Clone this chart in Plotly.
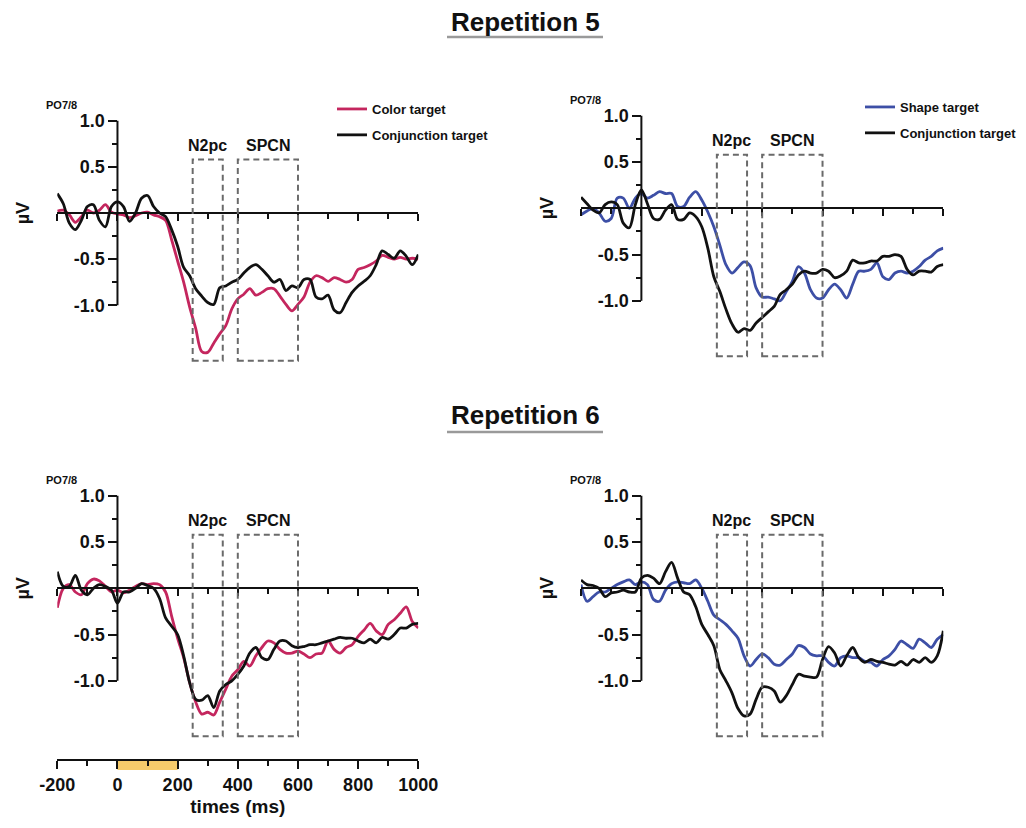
import plotly.graph_objects as go

W, H = 1026, 828
FONT = "Liberation Sans, Arial, sans-serif"

# ---------------- data ----------------
TIME = list(range(-200, 1001, 20))

R5_COLOR = [0.02, 0.03, -0.02, -0.10, -0.04, 0.03, 0.00, 0.03, 0.09, 0.01,
            -0.01, -0.02, -0.05, -0.03, 0.00, 0.01, -0.02, -0.04, -0.08, -0.29,
            -0.52, -0.75, -1.02, -1.25, -1.50, -1.51, -1.41, -1.31, -1.22, -1.04,
            -0.93, -0.88, -0.82, -0.89, -0.86, -0.82, -0.82, -0.90, -0.99, -1.06,
            -0.99, -0.91, -0.75, -0.68, -0.70, -0.74, -0.70, -0.72, -0.75, -0.72,
            -0.61, -0.59, -0.56, -0.52, -0.46, -0.48, -0.50, -0.48, -0.50, -0.49,
            -0.50]
R5_CONJ_C = [0.21, 0.10, -0.11, -0.18, -0.08, 0.07, 0.09, -0.08, -0.15, 0.07,
             0.12, 0.07, -0.09, 0.00, 0.16, 0.19, 0.07, 0.00, -0.04, -0.18,
             -0.36, -0.59, -0.68, -0.82, -0.90, -0.97, -0.99, -0.81, -0.79, -0.75,
             -0.72, -0.65, -0.59, -0.56, -0.61, -0.68, -0.75, -0.72, -0.84, -0.79,
             -0.81, -0.72, -0.72, -0.91, -0.93, -0.89, -1.05, -1.08, -0.97, -0.86,
             -0.79, -0.74, -0.68, -0.56, -0.41, -0.45, -0.49, -0.41, -0.47, -0.56,
             -0.45]
R5_SHAPE = [-0.07, -0.03, 0.00, -0.05, -0.14, -0.11, 0.11, 0.11, 0.00, 0.11,
            0.16, 0.11, 0.14, 0.18, 0.16, 0.16, 0.02, 0.02, 0.12, 0.18,
            0.09, -0.04, -0.20, -0.40, -0.61, -0.70, -0.64, -0.58, -0.62, -0.86,
            -0.96, -0.96, -0.98, -1.00, -0.90, -0.79, -0.63, -0.70, -0.88, -0.97,
            -0.97, -0.88, -0.82, -0.88, -0.97, -0.82, -0.68, -0.68, -0.66, -0.59,
            -0.74, -0.77, -0.70, -0.68, -0.70, -0.68, -0.63, -0.56, -0.52, -0.46,
            -0.43]
R5_CONJ_S = [0.12, 0.05, -0.02, -0.05, 0.04, 0.07, 0.04, -0.16, -0.21, 0.04,
             0.20, 0.05, -0.11, -0.12, -0.02, 0.04, -0.12, -0.12, -0.05, -0.09,
             -0.20, -0.43, -0.74, -0.90, -1.09, -1.25, -1.34, -1.30, -1.32, -1.24,
             -1.18, -1.12, -1.06, -0.93, -0.88, -0.82, -0.72, -0.68, -0.70, -0.70,
             -0.66, -0.68, -0.75, -0.73, -0.68, -0.56, -0.59, -0.59, -0.57, -0.57,
             -0.52, -0.52, -0.50, -0.52, -0.66, -0.72, -0.68, -0.68, -0.69, -0.63,
             -0.61]
R6_COLOR = [-0.21, 0.00, 0.04, -0.04, -0.07, 0.05, 0.10, 0.08, 0.02, -0.04,
            -0.02, -0.05, -0.02, 0.02, 0.05, 0.04, 0.05, 0.04, -0.04, -0.30,
            -0.54, -0.75, -1.02, -1.23, -1.36, -1.34, -1.37, -1.23, -1.09, -0.95,
            -0.88, -0.79, -0.84, -0.73, -0.64, -0.57, -0.59, -0.66, -0.70, -0.70,
            -0.68, -0.71, -0.75, -0.71, -0.70, -0.57, -0.66, -0.70, -0.64, -0.61,
            -0.52, -0.45, -0.38, -0.46, -0.50, -0.39, -0.34, -0.27, -0.20, -0.36,
            -0.43]
R6_CONJ_C = [0.18, 0.02, 0.02, 0.14, -0.02, -0.07, 0.00, 0.04, 0.02, -0.02,
             -0.16, -0.04, -0.04, 0.00, 0.05, 0.03, 0.00, -0.11, -0.32, -0.41,
             -0.50, -0.73, -1.02, -1.20, -1.21, -1.16, -1.29, -1.11, -1.04, -1.00,
             -0.93, -0.84, -0.70, -0.64, -0.75, -0.77, -0.66, -0.57, -0.57, -0.62,
             -0.64, -0.63, -0.61, -0.61, -0.59, -0.57, -0.55, -0.53, -0.54, -0.54,
             -0.57, -0.59, -0.55, -0.59, -0.53, -0.55, -0.50, -0.43, -0.43, -0.39,
             -0.38]
R6_SHAPE = [0.04, -0.14, -0.09, -0.04, -0.04, 0.00, 0.04, 0.07, 0.09, 0.04,
            0.07, 0.04, -0.12, -0.14, -0.02, 0.05, 0.07, 0.06, 0.05, 0.09,
            0.00, -0.14, -0.29, -0.34, -0.39, -0.46, -0.54, -0.73, -0.84, -0.77,
            -0.71, -0.75, -0.82, -0.83, -0.77, -0.71, -0.62, -0.64, -0.71, -0.73,
            -0.73, -0.80, -0.84, -0.75, -0.73, -0.75, -0.75, -0.79, -0.80, -0.84,
            -0.77, -0.73, -0.66, -0.57, -0.61, -0.65, -0.55, -0.59, -0.64, -0.55,
            -0.50]
R6_CONJ_S = [0.09, 0.04, 0.03, 0.00, -0.09, -0.05, -0.04, -0.02, -0.04, -0.04,
             0.11, 0.14, 0.11, 0.05, 0.18, 0.28, 0.11, -0.04, -0.07, -0.20,
             -0.39, -0.50, -0.62, -0.88, -1.00, -1.13, -1.30, -1.38, -1.36, -1.20,
             -1.07, -1.07, -1.11, -1.23, -1.16, -1.04, -0.93, -0.95, -0.96, -0.96,
             -0.77, -0.63, -0.70, -0.84, -0.73, -0.64, -0.75, -0.80, -0.77, -0.79,
             -0.80, -0.82, -0.83, -0.79, -0.83, -0.77, -0.80, -0.75, -0.80, -0.73,
             -0.46]

N2PC_WIN = [250, 350]
SPCN_WIN = [400, 600]
STIM_WIN = [0, 200]
BOX_Y = [-1.60, 0.58]
WIN_LABEL_Y = 0.73

XRANGE = [-200, 1000]
XTICKS = [-200, 0, 200, 400, 600, 800, 1000]
XTICK_TEXT = ["-200", "0", "200", "400", "600", "800", "1000"]
YTICKS = [-1.0, -0.5, 0.5, 1.0]
YTICK_TEXT = ["-1.0", "-0.5", "0.5", "1.0"]
YMINOR = [-0.75, -0.25, 0.25, 0.75]

PINK = "#C4265E"
BLUE = "#3D4FA6"
BLACK = "#111111"
BOXGRAY = "#6a6a6a"
STIMCOLOR = "#F6CB6B"

# panel series: (name, values, color)
PANEL_SERIES = [
    [("Color target", R5_COLOR, PINK), ("Conjunction target", R5_CONJ_C, BLACK)],
    [("Shape target", R5_SHAPE, BLUE), ("Conjunction target", R5_CONJ_S, BLACK)],
    [("Color target", R6_COLOR, PINK), ("Conjunction target", R6_CONJ_C, BLACK)],
    [("Shape target", R6_SHAPE, BLUE), ("Conjunction target", R6_CONJ_S, BLACK)],
]
PANEL_LEGEND = ["legend", "legend2", None, None]

# ---------------- layout geometry (pixels) ----------------
PANELS = [
    dict(x0=57.3, x1=418.3, top=110, bottom=372, zero=213.0, scale=92.3),
    dict(x0=581.0, x1=943.3, top=105, bottom=368, zero=208.3, scale=92.5),
    dict(x0=57.3, x1=418.3, top=485, bottom=752, zero=588.3, scale=92.5),
    dict(x0=581.0, x1=943.3, top=485, bottom=752, zero=588.3, scale=92.5),
]

def pxx(p):
    return p / W

def pxy(p):
    return 1 - p / H

fig = go.Figure()
layout = dict(
    template="none",
    width=W, height=H, autosize=False,
    margin=dict(l=0, r=0, t=0, b=0, autoexpand=False),
    paper_bgcolor="white", plot_bgcolor="rgba(0,0,0,0)",
    font=dict(family=FONT, color=BLACK),
    showlegend=True,
)
shapes = []
annotations = []

bold = dict(family=FONT, color=BLACK, weight="bold")

for i, (pan, series) in enumerate(zip(PANELS, PANEL_SERIES), start=1):
    xa = "x" if i == 1 else f"x{i}"
    ya = "y" if i == 1 else f"y{i}"
    xkey = "xaxis" if i == 1 else f"xaxis{i}"
    ykey = "yaxis" if i == 1 else f"yaxis{i}"
    zero_x_px = pan["x0"] + (0 - XRANGE[0]) / (XRANGE[1] - XRANGE[0]) * (pan["x1"] - pan["x0"])
    layout[xkey] = dict(
        domain=[pxx(pan["x0"]), pxx(pan["x1"])], range=XRANGE,
        anchor="free", position=pxy(pan["zero"]), automargin=False,
        showline=True, linecolor=BLACK, linewidth=2,
        ticks="outside", tickvals=XTICKS, ticklen=7, tickwidth=2, tickcolor=BLACK,
        showticklabels=False, showgrid=False, zeroline=False,
        minor=dict(ticks="outside", dtick=100, tick0=-200, ticklen=5, tickwidth=2,
                   tickcolor=BLACK, showgrid=False),
        fixedrange=True,
    )
    layout[ykey] = dict(
        domain=[pxy(pan["bottom"]), pxy(pan["top"])],
        range=[(pan["zero"] - pan["bottom"]) / pan["scale"], (pan["zero"] - pan["top"]) / pan["scale"]],
        anchor="free", position=pxx(zero_x_px), automargin=False,
        showline=False,
        ticks="outside", tickvals=YTICKS, ticktext=YTICK_TEXT, ticklen=9, tickwidth=2,
        tickcolor=BLACK, tickfont=dict(bold, size=18),
        minor=dict(ticks="outside", tickvals=YMINOR, ticklen=5, tickwidth=2,
                   tickcolor=BLACK, showgrid=False),
        showgrid=False, zeroline=False, fixedrange=True,
    )
    # y axis line from lowest to highest tick at time 0
    shapes.append(dict(type="line", xref=xa, yref=ya, x0=0, x1=0,
                       y0=min(YTICKS), y1=max(YTICKS),
                       line=dict(color=BLACK, width=2), layer="above"))
    # component windows
    for win in (N2PC_WIN, SPCN_WIN):
        shapes.append(dict(type="rect", xref=xa, yref=ya, x0=win[0], x1=win[1],
                           y0=BOX_Y[0], y1=BOX_Y[1],
                           line=dict(color=BOXGRAY, width=2, dash="6px,4px"),
                           fillcolor="rgba(0,0,0,0)", layer="above"))
    for lab, win in (("N2pc", N2PC_WIN), ("SPCN", SPCN_WIN)):
        annotations.append(dict(text=lab, xref=xa, yref=ya, x=sum(win) / 2, y=WIN_LABEL_Y,
                                showarrow=False, font=dict(bold, size=16),
                                xanchor="center", yanchor="middle"))
    # PO7/8 and µV labels
    annotations.append(dict(text="PO7/8", xref="paper", yref="paper",
                            x=pxx(pan["x0"] + 4), y=pxy(pan["top"] - 5),
                            showarrow=False, font=dict(bold, size=11),
                            xanchor="center", yanchor="middle"))
    annotations.append(dict(text="µV", xref="paper", yref="paper",
                            x=pxx(pan["x0"] - 34), y=pxy(pan["zero"]),
                            showarrow=False, textangle=-90, font=dict(bold, size=18),
                            xanchor="center", yanchor="middle"))
    # traces
    leg = PANEL_LEGEND[i - 1]
    for k, (name, vals, col) in enumerate(series):
        tr = dict(x=TIME, y=vals, name=name, mode="lines", xaxis=xa, yaxis=ya,
                  line=dict(color=col, width=2.8, shape="spline", smoothing=0.9),
                  hoverinfo="skip")
        if leg:
            tr.update(legend=leg, legendgroup=f"{leg}_{k}", showlegend=True)
        else:
            tr.update(showlegend=False)
        fig.add_trace(go.Scatter(**tr))

# bottom time axis with stimulus bar (below panel 3)
p3 = PANELS[2]
layout["xaxis5"] = dict(
    domain=[pxx(p3["x0"]), pxx(p3["x1"])], range=XRANGE,
    anchor="free", position=pxy(760), automargin=False,
    showline=True, linecolor=BLACK, linewidth=2,
    ticks="outside", tickvals=XTICKS, ticktext=XTICK_TEXT, ticklen=8, tickwidth=2,
    tickcolor=BLACK, tickfont=dict(bold, size=18),
    minor=dict(ticks="outside", dtick=100, tick0=-200, ticklen=5, tickwidth=2,
               tickcolor=BLACK, showgrid=False),
    title=dict(text="times (ms)", font=dict(bold, size=19), standoff=5),
    showgrid=False, zeroline=False, fixedrange=True,
)
layout["yaxis5"] = dict(domain=[pxy(770), pxy(760)], range=[0, 1], visible=False,
                        anchor="x5", fixedrange=True, automargin=False)
fig.add_trace(go.Scatter(
    x=[STIM_WIN[0], STIM_WIN[1], STIM_WIN[1], STIM_WIN[0], STIM_WIN[0]],
    y=[0, 0, 1, 1, 0], xaxis="x5", yaxis="y5", mode="lines", fill="toself",
    fillcolor=STIMCOLOR, line=dict(width=0, color=STIMCOLOR), showlegend=False,
    hoverinfo="skip"))

# legends
legend_common = dict(xanchor="left", yanchor="top", bgcolor="rgba(0,0,0,0)",
                     font=dict(bold, size=13), tracegroupgap=6, traceorder="grouped",
                     itemwidth=30, borderwidth=0)
layout["legend"] = dict(legend_common, x=pxx(332), y=pxy(94))
layout["legend2"] = dict(legend_common, x=pxx(860), y=pxy(92))

# titles
for txt, ty, uy in (("Repetition 5", 22, 37), ("Repetition 6", 415, 432)):
    annotations.append(dict(text=txt, xref="paper", yref="paper", x=pxx(525), y=pxy(ty),
                            showarrow=False, font=dict(bold, size=26),
                            xanchor="center", yanchor="middle"))
    shapes.append(dict(type="line", xref="paper", yref="paper", x0=pxx(447), x1=pxx(603),
                       y0=pxy(uy), y1=pxy(uy), line=dict(color="#9a9a9a", width=2.5)))

layout["shapes"] = shapes
layout["annotations"] = annotations
fig.update_layout(**layout)

fig.write_html("out.html")
